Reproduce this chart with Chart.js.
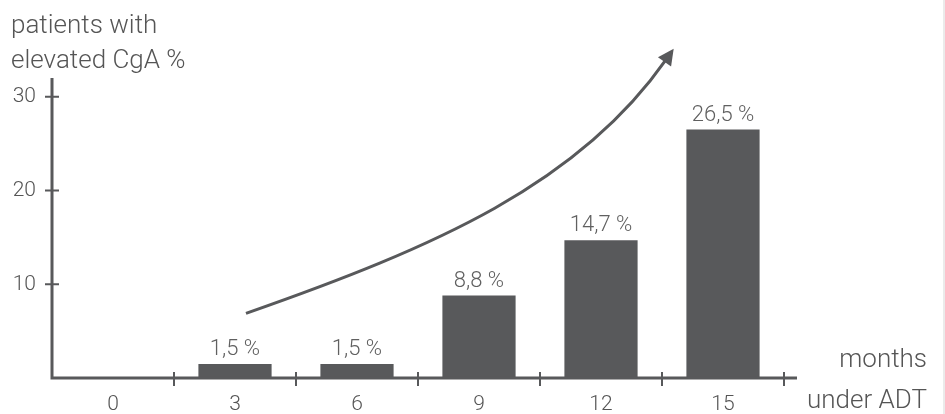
<!DOCTYPE html>
<html>
<head>
<meta charset="utf-8">
<script src="https://cdn.jsdelivr.net/npm/chart.js@4.4.1/dist/chart.umd.min.js"></script>
<style>
  html, body { margin: 0; padding: 0; background: #fff; }
  #wrap { width: 943px; height: 414px; border-right: 2px solid #ebebeb; }
</style>
</head>
<body>
<div id="wrap"><canvas id="chart" width="943" height="414"></canvas></div>
<script>
const months = ["0", "3", "6", "9", "12", "15"];
const elevatedCgA = [0, 1.5, 1.5, 8.8, 14.7, 26.5];
const yTicks = [10, 20, 30];
const yTitle = ["patients with", "elevated CgA %"];
const xTitle = ["months", "under ADT"];
// trend arrow path, in (category index, value) units
const trendArrow = [[1.09, 6.9], [2.65, 14.0], [3.82, 20.7], [4.53, 33.9]];

const INK = "#58595b";
const TEXT = "#555555";
const FONT = "Roboto, 'Liberation Sans', Arial, sans-serif";

const decor = {
  id: "decor",
  afterDatasetsDraw(chart) {
    const { ctx, chartArea: a, scales: { x, y } } = chart;
    ctx.save();

    // value labels over bars
    const meta = chart.getDatasetMeta(0);
    ctx.fillStyle = "#606060";
    ctx.font = `300 22px ${FONT}`;
    ctx.textAlign = "center";
    ctx.textBaseline = "alphabetic";
    meta.data.forEach((bar, i) => {
      const v = elevatedCgA[i];
      if (!v) return;
      ctx.fillText(v.toFixed(1).replace(".", ",") + " %", bar.x, bar.y - 9);
    });

    // axes
    ctx.strokeStyle = INK;
    ctx.lineWidth = 3;
    ctx.beginPath();
    ctx.moveTo(a.left, a.top);
    ctx.lineTo(a.left, a.bottom);
    ctx.lineTo(a.right + 13, a.bottom);
    ctx.stroke();

    ctx.lineWidth = 2;
    ctx.beginPath();
    yTicks.forEach((v) => {
      const py = y.getPixelForValue(v);
      ctx.moveTo(a.left - 7, py);
      ctx.lineTo(a.left + 7, py);
    });
    for (let i = 1; i <= months.length; i++) {
      const px = x.getPixelForValue(i - 0.5);
      ctx.moveTo(px, a.bottom - 6);
      ctx.lineTo(px, a.bottom + 8);
    }
    ctx.stroke();

    // curved arrow
    const p = trendArrow.map(([i, v]) => [x.getPixelForValue(i), y.getPixelForValue(v)]);
    ctx.lineWidth = 3;
    ctx.beginPath();
    ctx.moveTo(p[0][0], p[0][1]);
    ctx.bezierCurveTo(p[1][0], p[1][1], p[2][0], p[2][1], p[3][0], p[3][1]);
    ctx.stroke();
    const dx = p[3][0] - p[2][0], dy = p[3][1] - p[2][1];
    const len = Math.hypot(dx, dy), ux = dx / len, uy = dy / len;
    const tipX = p[3][0] + ux * 14, tipY = p[3][1] + uy * 14;
    const bX = p[3][0] - ux * 2, bY = p[3][1] - uy * 2;
    ctx.fillStyle = INK;
    ctx.beginPath();
    ctx.moveTo(tipX, tipY);
    ctx.lineTo(bX - uy * 8, bY + ux * 8);
    ctx.lineTo(bX + uy * 8, bY - ux * 8);
    ctx.closePath();
    ctx.fill();

    // axis titles
    ctx.fillStyle = TEXT;
    ctx.font = `300 26px ${FONT}`;
    ctx.textAlign = "left";
    ctx.fillText(yTitle[0], 11, 33);
    ctx.fillText(yTitle[1], 11, 68);
    ctx.textAlign = "right";
    ctx.fillText(xTitle[0], a.right + 143, a.bottom - 11);
    ctx.fillText(xTitle[1], a.right + 143, a.bottom + 30);

    ctx.restore();
  },
};

const tickFont = { family: FONT, size: 21, weight: 300 };

new Chart(document.getElementById("chart"), {
  type: "bar",
  data: {
    labels: months,
    datasets: [
      {
        data: elevatedCgA,
        backgroundColor: INK,
        borderWidth: 0,
        barPercentage: 0.6,
        categoryPercentage: 1,
      },
    ],
  },
  options: {
    responsive: false,
    animation: false,
    layout: { padding: { top: 78, right: 159, left: 0, bottom: 0 } },
    plugins: { legend: { display: false }, tooltip: { enabled: false } },
    scales: {
      x: {
        offset: true,
        grid: { display: false, drawTicks: false },
        border: { display: false },
        ticks: { color: TEXT, font: tickFont, padding: 14, maxRotation: 0 },
        afterFit: (s) => { s.height = 36; },
      },
      y: {
        min: 0,
        max: 32,
        grid: { display: false, drawTicks: false },
        border: { display: false },
        ticks: { color: TEXT, font: tickFont, padding: 16 },
        afterBuildTicks: (s) => { s.ticks = yTicks.map((v) => ({ value: v })); },
        afterFit: (s) => { s.width = 52; },
      },
    },
  },
  plugins: [decor],
});
</script>
</body>
</html>
